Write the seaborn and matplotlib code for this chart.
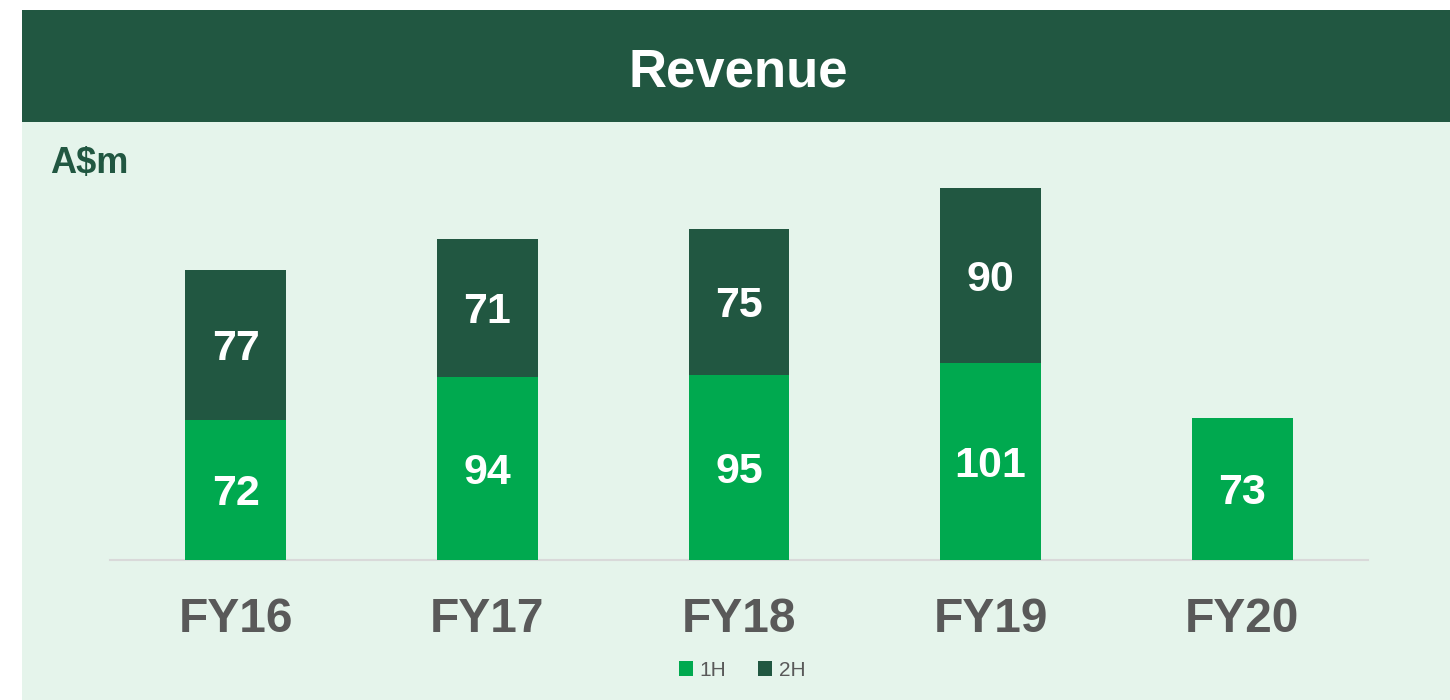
import matplotlib
matplotlib.use("Agg")
import matplotlib.pyplot as plt
import seaborn as sns
import pandas as pd
import numpy as np
from matplotlib.patches import Rectangle, Patch

categories = ["FY16", "FY17", "FY18", "FY19", "FY20"]
h1 = [72, 94, 95, 101, 73]
h2 = [77, 71, 75, 90, None]

sns.set_theme(style="white")
plt.rcParams['font.family'] = ['Liberation Sans', 'DejaVu Sans']

C1 = "#00A94F"
C2 = "#215741"
BG = "#E5F4EB"
GRAY = "#595959"

W, H = 1450, 700
fig = plt.figure(figsize=(14.5, 7), dpi=100)
fig.patch.set_facecolor("white")
fig.patches.append(Rectangle((22 / W, 0), 1 - 22 / W, 578 / H, transform=fig.transFigure,
                             facecolor=BG, edgecolor="none", zorder=-10))
fig.patches.append(Rectangle((22 / W, 578 / H), 1 - 22 / W, 112 / H, transform=fig.transFigure,
                             facecolor=C2, edgecolor="none", zorder=-10))
fig.text(738 / W, 1 - 67 / H, "Revenue", color="white", fontsize=38, fontweight="bold",
         ha="center", va="center_baseline")
fig.text(50 / W, 1 - 160 / H, "A$m", color=C2, fontsize=26, fontweight="bold",
         ha="left", va="center_baseline")

ax = fig.add_axes([110 / W, (H - 560) / H, (1368 - 110) / W, (560 - 150) / H])
ax.set_facecolor("none")
ax.set_zorder(5)

h2v = [np.nan if v is None else v for v in h2]
totals = [a + (0 if np.isnan(b) else b) for a, b in zip(h1, h2v)]
df = pd.DataFrame({"cat": categories, "h1": h1, "h2": h2v, "total": totals})

sns.barplot(data=df, x="cat", y="total", color=C2, width=0.4, ax=ax, saturation=1,
            edgecolor="none", zorder=2)
sns.barplot(data=df, x="cat", y="h1", color=C1, width=0.4, ax=ax, saturation=1,
            edgecolor="none", zorder=3)

for i, (a, b) in enumerate(zip(h1, h2v)):
    ax.text(i, a / 2, f"{a}", ha="center", va="center_baseline", color="white",
            fontsize=31, fontweight="bold", zorder=5)
    if not np.isnan(b):
        ax.text(i, a + b / 2, f"{int(b)}", ha="center", va="center_baseline", color="white",
                fontsize=31, fontweight="bold", zorder=5)

ax.set_xlim(-0.5, 4.5)
ax.set_ylim(0, 410 / 1.948)
ax.set_xlabel("")
ax.set_ylabel("")
ax.set_yticks([])
ax.tick_params(axis="x", length=0, pad=27, labelsize=34.5, labelcolor=GRAY)
for lbl in ax.get_xticklabels():
    lbl.set_fontweight("bold")
for s in ["top", "left", "right"]:
    ax.spines[s].set_visible(False)
ax.spines["bottom"].set_color("#D9D9D9")
ax.spines["bottom"].set_linewidth(1.5)

handles = [Patch(facecolor=C1, edgecolor="none", label="1H"),
           Patch(facecolor=C2, edgecolor="none", label="2H")]
fig.legend(handles=handles, loc="center", bbox_to_anchor=(742 / W, 1 - 670 / H), ncol=2,
           frameon=False, fontsize=15, labelcolor=GRAY, handlelength=0.7, handleheight=0.7,
           handletextpad=0.3, columnspacing=1.5)

fig.savefig("out.png", dpi=100)
